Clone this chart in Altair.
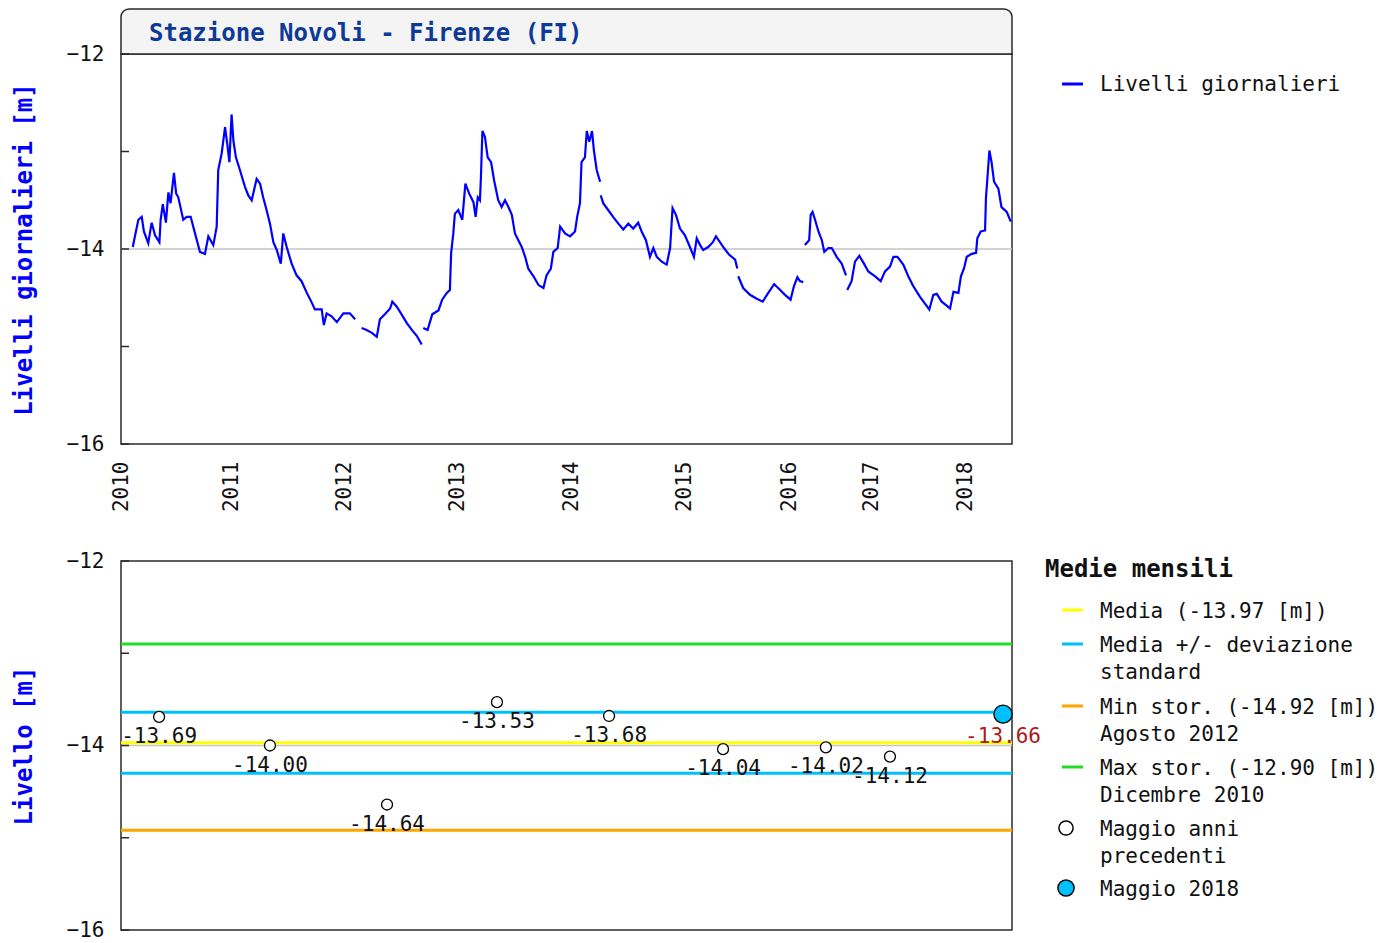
import altair as alt
import pandas as pd

# ---------------- data ----------------
years = [2010, 2011, 2012, 2013, 2014, 2015, 2016, 2017, 2018]
# x axis is by observation index (missing days skipped), year starts at these indices
year_start_obs = [0, 358, 723, 1088, 1456, 1821, 2160, 2422, 2728]
n_obs = 2877

# daily levels [m]; None marks a gap in the record
daily_obs = [38, 45, 56, 67, 74, 88, 99, 110, 124, 128, 135, 145, 153, 160, 171, 178, 185, 201, 212, 225,
             239, 255, 271, 282, 298, 309, 314, 325, 336, 343, 350, 357, 363, 371, 384, 400, 411, 422, 438, 449,
             459, 470, 481, 492, 503, 516, 524, 535, 551, 567, 583, 600, 616, 626, 648, 655, 664, 680, 697, 718,
             739, 756, None,
             777, 793, 810, 826, 836, 852, 869, 876, 890, 906, 923, 939, 955, 971, None,
             976, 990, 1005, 1025, 1037, 1052, 1062, 1066, 1073, 1078, 1089, 1102, 1112, 1124, 1138, 1145, 1152,
             1159, 1162, 1167, 1175, 1184, 1195, 1205, 1218, 1229, 1240, 1251, 1262, 1272, 1283, 1294, 1305, 1315,
             1332, 1348, 1364, 1374, 1388, 1396, 1410, 1418, 1434, 1450, 1466, 1473, 1482, 1487, 1498, 1504, 1512,
             1521, 1527, 1536, 1547, None,
             1549, 1557, 1573, 1589, 1606, 1622, 1638, 1654, 1670, 1681, 1695, 1708, 1719, 1730, 1746, 1762, 1773,
             1781, 1792, 1805, 1821, 1837, 1850, 1859, 1870, 1880, 1896, 1911, 1921, 1934, 1947, 1964, 1983, 1990,
             None,
             1993, 2009, 2031, 2053, 2072, 2090, 2109, 2122, 2144, 2162, 2173, 2184, 2192, 2203, None,
             2208, 2222, 2224, 2227, 2233, 2241, 2252, 2263, 2271, 2284, 2295, 2311, 2327, 2341, None,
             2345, 2359, 2370, 2384, 2399, 2413, 2435, 2453, 2467, 2483, 2494, 2507, 2526, 2542, 2558, 2580, 2596,
             2610, 2623, 2634, 2650, 2666, 2677, 2688, 2704, 2712, 2722, 2731, 2747, 2761, 2765, 2776, 2790, 2793,
             2797, 2804, 2811, 2819, 2833, 2843, 2860, 2873]
daily_val = [-13.98, -13.87, -13.70, -13.67, -13.82, -13.94, -13.73, -13.86, -13.93, -13.70, -13.54, -13.73,
             -13.42, -13.53, -13.22, -13.43, -13.47, -13.70, -13.67, -13.67, -13.84, -14.03, -14.05, -13.87,
             -13.96, -13.77, -13.19, -13.02, -12.75, -12.92, -13.11, -12.62, -12.89, -13.06, -13.19, -13.36,
             -13.45, -13.50, -13.28, -13.33, -13.47, -13.60, -13.74, -13.93, -14.01, -14.15, -13.84, -13.98,
             -14.15, -14.27, -14.33, -14.45, -14.55, -14.62, -14.62, -14.78, -14.66, -14.69, -14.75, -14.66,
             -14.66, -14.72, None,
             -14.81, -14.83, -14.86, -14.90, -14.72, -14.67, -14.61, -14.54, -14.59, -14.67, -14.76, -14.83,
             -14.89, -14.98, None,
             -14.81, -14.83, -14.67, -14.63, -14.52, -14.45, -14.42, -14.04, -13.84, -13.64, -13.60, -13.70,
             -13.33, -13.43, -13.52, -13.67, -13.47, -13.50, -13.28, -12.79, -12.85, -13.06, -13.11, -13.30,
             -13.50, -13.57, -13.50, -13.57, -13.65, -13.84, -13.91, -13.98, -14.08, -14.20, -14.28, -14.37,
             -14.40, -14.27, -14.20, -14.03, -13.99, -13.77, -13.84, -13.87, -13.82, -13.67, -13.53, -13.11,
             -13.06, -12.79, -12.90, -12.79, -12.99, -13.19, -13.31, None,
             -13.45, -13.53, -13.60, -13.67, -13.74, -13.80, -13.74, -13.79, -13.73, -13.82, -13.91, -14.08,
             -13.99, -14.08, -14.13, -14.16, -13.99, -13.58, -13.65, -13.79, -13.86, -13.98, -14.08, -13.89,
             -13.96, -14.01, -13.98, -13.93, -13.87, -13.93, -13.99, -14.06, -14.11, -14.20, None,
             -14.28, -14.40, -14.47, -14.51, -14.54, -14.45, -14.36, -14.40, -14.47, -14.52, -14.38, -14.29,
             -14.33, -14.34, None,
             -13.96, -13.91, -13.81, -13.65, -13.62, -13.70, -13.82, -13.91, -14.03, -13.99, -13.99, -14.08,
             -14.15, -14.27, None,
             -14.42, -14.33, -14.13, -14.07, -14.15, -14.23, -14.28, -14.33, -14.23, -14.18, -14.08, -14.08,
             -14.16, -14.28, -14.38, -14.49, -14.56, -14.62, -14.47, -14.46, -14.54, -14.58, -14.61, -14.44,
             -14.45, -14.28, -14.20, -14.08, -14.05, -14.04, -13.89, -13.82, -13.81, -13.47, -13.30, -12.99,
             -13.11, -13.31, -13.38, -13.57, -13.62, -13.72]

# monthly means (May)
may_years = [2010, 2011, 2012, 2013, 2014, 2015, 2016, 2017]
may_obs = [123, 481, 859, 1214, 1576, 1944, 2276, 2483]
may_vals = [-13.69, -14.00, -14.64, -13.53, -13.68, -14.04, -14.02, -14.12]
cur_year = [2018]
cur_obs = [2848]
cur_val = [-13.66]

# reference levels
ref_names = ["Media", "Media + dev. std", "Media - dev. std", "Min stor.", "Max stor."]
ref_levels = [-13.97, -13.64, -14.30, -14.92, -12.90]
ref_colors = ["#ffff00", "#00bfff", "#00bfff", "#ffa500", "#22dd22"]
zero_level = [-14]
tick_levels = [-12, -13, -14, -15, -16]
label_levels = [-12, -14, -16]

# legend texts
top_legend = ["Livelli giornalieri"]
bottom_legend_title = "Medie mensili"
bottom_legend = ["Media (-13.97 [m])", "Media +/- deviazione\nstandard",
                 "Min stor. (-14.92 [m])\nAgosto 2012", "Max stor. (-12.90 [m])\nDicembre 2010",
                 "Maggio anni\nprecedenti", "Maggio 2018"]
bottom_legend_kind = ["line", "line", "line", "line", "open", "filled"]
bottom_legend_color = ["#ffff00", "#00bfff", "#ffa500", "#22dd22", "white", "#00bfff"]

# ---------------- build tables ----------------
rows = []
seg = 0
for o, v in zip(daily_obs, daily_val):
    if v is None:
        seg += 1
        continue
    rows.append({"obs": o, "level": v, "seg": seg})
df_daily = pd.DataFrame(rows)
df_may = pd.DataFrame({"year": may_years, "obs": may_obs, "level": may_vals})
df_may["label"] = [f"{v:.2f}" for v in may_vals]
df_cur = pd.DataFrame({"year": cur_year, "obs": cur_obs, "level": cur_val})
df_cur["label"] = [f"{v:.2f}" for v in cur_val]
df_ref = pd.DataFrame({"name": ref_names, "level": ref_levels})
df_zero = pd.DataFrame({"level": zero_level})
df_ticks = pd.DataFrame({"level": tick_levels})
one = pd.DataFrame({"k": [0]})

# ---------------- styling ----------------
W, H1, H2 = 891, 390, 369
FONT = "DejaVu Sans Mono"
FRAME = "#2a2a2a"

x_scale = alt.Scale(domain=[0, n_obs], nice=False, zero=False)
y_scale = alt.Scale(domain=[-16, -12], nice=False, zero=False)

year_expr = "[" + ",".join(f"'{y}'" for y in years) + "][indexof([" + \
    ",".join(str(o) for o in year_start_obs) + "], datum.value)]"


def y_axis(title):
    return alt.Axis(values=label_levels, title=title, ticks=False, tickSize=0, domain=False,
                    grid=False, format="d", labelFont=FONT, labelFontSize=21, labelColor="#111",
                    labelPadding=17, titleFont=FONT, titleFontSize=24, titleFontWeight="bold",
                    titleColor="#0000ff", titlePadding=30)


TOP_Y = alt.Y("level:Q", scale=y_scale, axis=y_axis("Livelli giornalieri [m]"))
BOT_Y = alt.Y("level:Q", scale=y_scale, axis=y_axis("Livello [m]"))


def inward_ticks(yenc):
    return alt.Chart(df_ticks).mark_rule(color=FRAME, strokeWidth=1.5).encode(
        x=alt.value(0), x2=alt.value(8), y=yenc)


def zero_rule(yenc):
    return alt.Chart(df_zero).mark_rule(color="#c4c4c4", strokeWidth=1.5).encode(y=yenc)


# ---------------- top panel ----------------
title_box = alt.Chart(one).mark_rect(
    fill="#f4f4f4", stroke=FRAME, strokeWidth=1.5,
    cornerRadiusTopLeft=8, cornerRadiusTopRight=8).encode(
    x=alt.value(0), x2=alt.value(W), y=alt.value(-45), y2=alt.value(0))
title_text = alt.Chart(one).mark_text(
    text="Stazione Novoli - Firenze (FI)", font=FONT, fontSize=24, fontWeight="bold",
    color="#0d3a96", align="left", baseline="middle").encode(x=alt.value(28), y=alt.value(-20))

daily_line = alt.Chart(df_daily).mark_line(color="#0000ff", strokeWidth=2.2).encode(
    x=alt.X("obs:Q", scale=x_scale,
            axis=alt.Axis(values=year_start_obs, labelExpr=year_expr, labelAngle=270, ticks=False,
                          tickSize=0, domain=False, grid=False, title=None, labelFont=FONT,
                          labelFontSize=21, labelColor="#111", labelPadding=17, labelFlush=False,
                          labelOverlap=False)),
    y=TOP_Y,
    detail="seg:N")

top_leg_line = alt.Chart(one).mark_rule(color="#0000ff", strokeWidth=3).encode(
    x=alt.value(941), x2=alt.value(962), y=alt.value(30))
top_leg_text = alt.Chart(one).mark_text(
    text=top_legend[0], font=FONT, fontSize=21, color="#111", align="left", baseline="middle").encode(
    x=alt.value(979), y=alt.value(31))

top = alt.layer(title_box, title_text, zero_rule(TOP_Y), daily_line, inward_ticks(TOP_Y),
                top_leg_line, top_leg_text).properties(width=W, height=H1)

# ---------------- bottom panel ----------------
x_hidden = alt.X("obs:Q", scale=x_scale, axis=None)

ref_lines = alt.Chart(df_ref).mark_rule(strokeWidth=3).encode(
    y=BOT_Y,
    color=alt.Color("name:N", scale=alt.Scale(domain=ref_names, range=ref_colors), legend=None))

may_pts = alt.Chart(df_may).mark_point(shape="circle", filled=True, fill="white", stroke="black",
                                       strokeWidth=1.3, size=120, opacity=1).encode(
    x=x_hidden, y=BOT_Y)
may_lbl = alt.Chart(df_may).mark_text(font=FONT, fontSize=21, color="#111", dy=20,
                                      baseline="middle").encode(
    x=x_hidden, y=BOT_Y, text="label:N")
cur_pt = alt.Chart(df_cur).mark_point(shape="circle", filled=True, fill="#00bfff", stroke="black",
                                      strokeWidth=1.3, size=330, opacity=1).encode(
    x=x_hidden, y=BOT_Y)
cur_lbl = alt.Chart(df_cur).mark_text(font=FONT, fontSize=21, color="#b01818", dy=23,
                                      baseline="middle").encode(
    x=x_hidden, y=BOT_Y, text="label:N")

leg_layers = [alt.Chart(one).mark_text(
    text=bottom_legend_title, font=FONT, fontSize=24, fontWeight="bold", color="#111",
    align="left", baseline="middle").encode(x=alt.value(924), y=alt.value(9))]
leg_y = [49, 83, 145, 206, 267, 327]
for lab, kind, col, yy in zip(bottom_legend, bottom_legend_kind, bottom_legend_color, leg_y):
    if kind == "line":
        leg_layers.append(alt.Chart(one).mark_rule(color=col, strokeWidth=3).encode(
            x=alt.value(941), x2=alt.value(962), y=alt.value(yy)))
    else:
        leg_layers.append(alt.Chart(one).mark_point(
            shape="circle", filled=True, fill=col, stroke="black", strokeWidth=1.5,
            size=200 if kind == "open" else 260, opacity=1).encode(x=alt.value(945), y=alt.value(yy)))
    leg_layers.append(alt.Chart(one).mark_text(
        text=lab, font=FONT, fontSize=21, color="#111", align="left", baseline="top",
        lineBreak="\n", lineHeight=27).encode(x=alt.value(979), y=alt.value(yy - 9)))

bottom = alt.layer(zero_rule(BOT_Y), ref_lines, may_pts, may_lbl, cur_pt, cur_lbl, inward_ticks(BOT_Y),
                   *leg_layers).properties(width=W, height=H2)

chart = alt.vconcat(top, bottom, spacing=36).properties(
    padding={"left": 3, "top": -1, "right": 0, "bottom": 0}
).configure(font=FONT).configure_view(stroke=FRAME, strokeWidth=1.5)

chart.save("out.html", embed_options={"renderer": "svg", "actions": False})
